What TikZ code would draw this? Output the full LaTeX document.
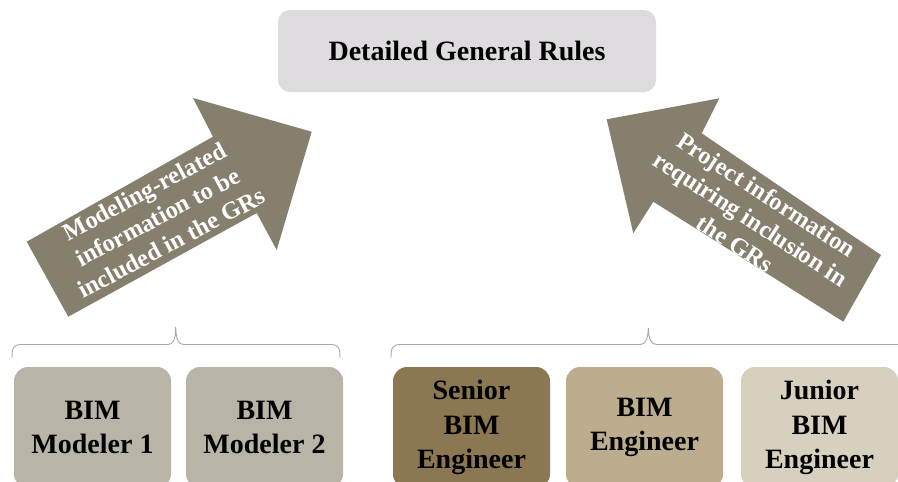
\documentclass[tikz,border=0pt]{standalone}
\usepackage{fontspec}
\setmainfont{Liberation Serif}
\definecolor{topfill}{HTML}{DDDBDD}
\definecolor{modfill}{HTML}{B8B4A7}
\definecolor{senfill}{HTML}{8B7853}
\definecolor{engfill}{HTML}{BCAD8E}
\definecolor{junfill}{HTML}{D8D0BE}
\definecolor{arrfill}{HTML}{877F6E}
\definecolor{bracecol}{HTML}{A8A8A8}
\tikzset{
  rolebox/.style={rounded corners=14pt, minimum width=157pt, minimum height=121pt,
    inner sep=0pt, align=center, text=black,
    font=\fontsize{28}{34.5}\selectfont\bfseries},
  arrtext/.style={text=white, align=center, inner sep=0pt,
    font=\fontsize{24.5}{29}\selectfont\bfseries},
  bracestyle/.style={draw=bracecol, line width=0.9pt}
}
\begin{document}
\begin{tikzpicture}[x=1pt,y=-1pt]
\clip (0,0) rectangle (898,482);
\fill[white] (0,0) rectangle (898,482);
% top box
\node[fill=topfill, rounded corners=12pt, minimum width=378pt, minimum height=82pt,
  inner sep=0pt, font=\fontsize{28}{34}\selectfont\bfseries] (top) at (467,51) {Detailed General Rules};
% role boxes
\node[rolebox, fill=modfill] (m1) at (92.5,427.5) {BIM\\Modeler 1};
\node[rolebox, fill=modfill] (m2) at (264.5,427.5) {BIM\\Modeler 2};
\node[rolebox, fill=senfill] (sen) at (471.5,427.5) {Senior\\BIM\\Engineer};
\node[rolebox, fill=engfill] (eng) at (644.5,427.5) {BIM\\Engineer};
\node[rolebox, fill=junfill] (jun) at (819.5,427.5) {Junior\\BIM\\Engineer};
% braces
\draw[bracestyle] (12,358) .. controls (12,348) and (13,344.5) .. (22,344.5)
  -- (168,344.5) .. controls (173,344.5) and (175.5,340) .. (175.7,327)
  .. controls (176,340) and (178.5,344.5) .. (184,344.5)
  -- (330,344.5) .. controls (339,344.5) and (340,348) .. (340,358);
\draw[bracestyle] (391,358) .. controls (391,348) and (392,344.5) .. (401,344.5)
  -- (640,344.5) .. controls (645,344.5) and (648,340) .. (648.3,328)
  .. controls (648.6,340) and (651.5,344.5) .. (657,344.5)
  -- (905,344.5);
% left arrow
\fill[arrfill] (68.3,316.7) -- (26.7,241.7) -- (213,136.7) -- (193,98)
  -- (311.7,131.7) -- (276.7,250) -- (256.7,213) -- cycle;
\node[arrtext, rotate=28] (ltxt) at (158,217)
  {Modeling-related\\information to be\\included in the GRs};
% right arrow
\fill[arrfill] (606.7,119.3) -- (719.3,98.3) -- (701.7,133.3) -- (881,255)
  -- (843.3,321.7) -- (653.3,201.7) -- (633.3,233.3) -- cycle;
\node[arrtext, rotate=-33] (rtxt) at (751,219)
  {Project information\\requiring inclusion in\\the GRs};
\end{tikzpicture}
\end{document}
